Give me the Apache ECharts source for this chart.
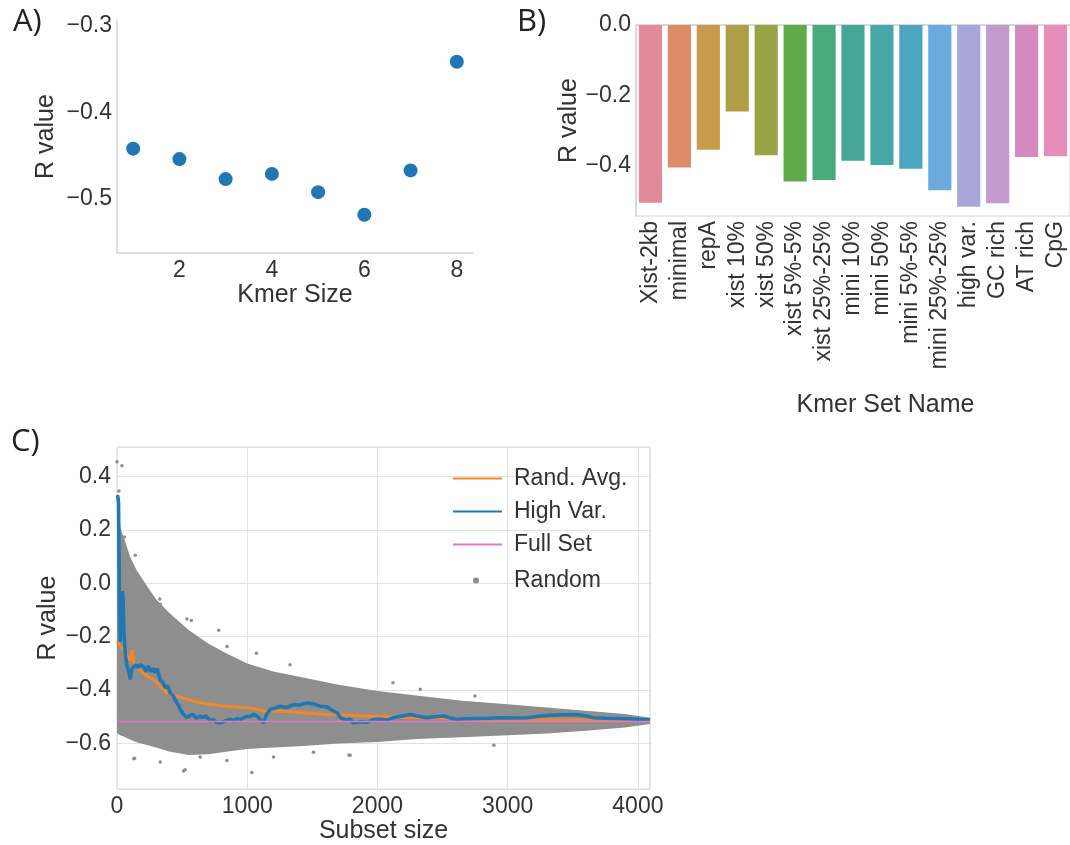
<!DOCTYPE html>
<html>
<head>
<meta charset="utf-8">
<title>Kmer R values</title>
<script src="https://cdn.jsdelivr.net/npm/echarts@6.0.0/dist/echarts.min.js"></script>
<style>
  html, body { margin: 0; padding: 0; background: #fff; }
  #chart { width: 1070px; height: 845px; }
</style>
</head>
<body>
<div id="chart"></div>
<script>
// A) R value by kmer size
const kmerSizes = [1, 2, 3, 4, 5, 6, 7, 8]
const kmerSizeR = [-0.442, -0.454, -0.477, -0.471, -0.492, -0.518, -0.467, -0.342]

// B) R value by kmer set
const setNames = ['Xist-2kb', 'minimal', 'repA', 'xist 10%', 'xist 50%', 'xist 5%-5%', 'xist 25%-25%',
  'mini 10%', 'mini 50%', 'mini 5%-5%', 'mini 25%-25%', 'high var.', 'GC rich', 'AT rich', 'CpG']
const setR = [-0.505, -0.405, -0.355, -0.246, -0.370, -0.445, -0.441,
  -0.386, -0.398, -0.409, -0.470, -0.517, -0.507, -0.375, -0.373]

// C) R value by subset size
const highVarX = [3, 8, 12, 16, 20, 25, 32, 40, 46, 55, 65, 77, 90, 102, 115, 128, 145, 160, 180, 204, 222, 240,
  260, 281, 295, 310, 332, 350, 370, 390, 409, 430, 450, 470, 486, 510, 537, 560, 580, 610, 639, 660, 680,
  716, 740, 760, 793, 830, 870, 900, 920, 950, 972, 1000, 1020, 1050, 1074, 1100, 1125, 1150, 1176, 1210,
  1253, 1300, 1355, 1400, 1458, 1510, 1560, 1610, 1662, 1690, 1714, 1760, 1790, 1816, 1870, 1919, 1970,
  2021, 2070, 2123, 2180, 2251, 2310, 2379, 2440, 2507, 2560, 2609, 2680, 2763, 2850, 2942, 3050, 3147,
  3240, 3325, 3430, 3530, 3600, 3658, 3750, 3837, 3950, 4093]
const highVarR = [0.33, 0.32, 0.30, 0.10, -0.10, -0.22, -0.15, -0.03, -0.05, -0.20, -0.27, -0.31, -0.33, -0.36,
  -0.32, -0.32, -0.305, -0.315, -0.305, -0.313, -0.33, -0.31, -0.33, -0.319, -0.335, -0.32, -0.362, -0.37,
  -0.39, -0.385, -0.411, -0.42, -0.44, -0.455, -0.472, -0.49, -0.503, -0.495, -0.49, -0.505, -0.497, -0.503,
  -0.495, -0.515, -0.51, -0.52, -0.523, -0.515, -0.509, -0.515, -0.506, -0.51, -0.503, -0.497, -0.50, -0.49,
  -0.497, -0.51, -0.523, -0.49, -0.472, -0.468, -0.46, -0.465, -0.454, -0.456, -0.448, -0.452, -0.46,
  -0.462, -0.478, -0.484, -0.503, -0.512, -0.509, -0.523, -0.518, -0.521, -0.51, -0.509, -0.512, -0.503,
  -0.498, -0.491, -0.497, -0.503, -0.50, -0.497, -0.504, -0.509, -0.507, -0.506, -0.505, -0.503, -0.504,
  -0.503, -0.498, -0.494, -0.492, -0.491, -0.497, -0.503, -0.505, -0.506, -0.508, -0.511]

const randAvgX = [2, 20, 50, 80, 105, 115, 130, 170, 204, 240, 281, 330, 384, 440, 511, 580, 639, 700, 767, 830,
  895, 960, 1023, 1080, 1125, 1190, 1253, 1330, 1407, 1530, 1662, 1790, 1919, 2050, 2200, 2400, 2600, 2800,
  3000, 3250, 3500, 3750, 4000, 4093]
const randAvgR = [-0.22, -0.23, -0.25, -0.27, -0.29, -0.25, -0.30, -0.32, -0.337, -0.35, -0.362, -0.385, -0.41,
  -0.42, -0.43, -0.44, -0.447, -0.452, -0.456, -0.459, -0.462, -0.465, -0.467, -0.472, -0.478, -0.477, -0.478,
  -0.481, -0.484, -0.488, -0.492, -0.494, -0.497, -0.499, -0.502, -0.504, -0.506, -0.508, -0.51, -0.511,
  -0.512, -0.513, -0.514, -0.515]

const fullSetX = [0, 4093]
const fullSetR = [-0.517, -0.517]

// dense part of the random cloud, read as an upper and lower edge
const cloudX = [0, 10, 30, 60, 100, 150, 230, 300, 400, 550, 700, 850, 1000, 1200, 1400, 1700, 2000, 2300,
  2650, 3000, 3300, 3600, 3900, 4093]
const cloudTop = [0.35, 0.25, 0.2, 0.16, 0.1, 0.05, -0.01, -0.06, -0.11, -0.175, -0.225, -0.265, -0.3, -0.33,
  -0.35, -0.38, -0.403, -0.42, -0.44, -0.453, -0.465, -0.477, -0.489, -0.503]
const cloudBottom = [-0.56, -0.565, -0.57, -0.575, -0.585, -0.595, -0.605, -0.615, -0.63, -0.643, -0.64, -0.63,
  -0.62, -0.615, -0.61, -0.60, -0.594, -0.583, -0.576, -0.569, -0.562, -0.552, -0.54, -0.527]

// scattered random points outside the dense cloud
const randomX = [0, 38, 15, 56, 140, 204, 332, 307, 537, 329, 571, 781, 845, 1071, 1329, 2119, 2329, 2748,
  128, 332, 511, 1036, 639, 1202, 1790, 1509, 844, 523, 135, 1781, 2894]
const randomR = [0.455, 0.44, 0.345, 0.173, 0.105, -0.042, -0.079, -0.15, -0.134, -0.059, -0.139, -0.176,
  -0.237, -0.262, -0.305, -0.372, -0.397, -0.422, -0.657, -0.669, -0.703, -0.708, -0.65, -0.65, -0.644,
  -0.632, -0.663, -0.698, -0.655, -0.643, -0.606]

const barColors = ['#e48b99', '#dd8b66', '#c79a4c', '#b09d48', '#98a348', '#5fab4c', '#4aa97c', '#46a696',
  '#48a7a7', '#4aa6c0', '#6aaadc', '#a8a6d8', '#c49acd', '#d48abf', '#e58eba']

const FONT = "'Liberation Sans', Arial, sans-serif"
const TEXT = '#333'
const SPINE = '#d4d4d4'
const GREY = '#8e8e8e'

const fmt1 = v => (v < 0 ? '\u2212' : '') + Math.abs(v).toFixed(1)
const pairs = (xs, ys) => xs.map((x, i) => [x, ys[i]])

const tickLabel = (extra) => Object.assign({
  color: TEXT, fontSize: 23, fontFamily: FONT, showMinLabel: false, showMaxLabel: false
}, extra)
const axisName = (extra) => Object.assign({ color: TEXT, fontSize: 25, fontFamily: FONT }, extra)
const panelTitle = (text, left, top) => ({
  text, left, top,
  textStyle: { fontFamily: "'Open Sans', sans-serif", fontSize: 31, fontWeight: 'normal', color: '#222' }
})

// the cloud is a polygon: upper edge left to right, then lower edge back
function renderCloud(params, api) {
  const upper = cloudX.map((x, i) => api.coord([x, cloudTop[i]]))
  const lower = cloudX.map((x, i) => api.coord([x, cloudBottom[i]])).reverse()
  return {
    type: 'polygon',
    shape: { points: upper.concat(lower) },
    style: { fill: GREY }
  }
}

const chart = echarts.init(document.getElementById('chart'))

chart.setOption({
  animation: false,
  backgroundColor: '#fff',
  title: [panelTitle('A)', 8, 2), panelTitle('B)', 512, 2), panelTitle('C)', 6, 422)],
  grid: [
    { left: 117, top: 20, width: 356, height: 233 },
    { left: 636, top: 25, width: 443, height: 191, show: true, borderColor: SPINE, borderWidth: 1 },
    { left: 117, top: 447, width: 533, height: 346, show: true, borderColor: SPINE, borderWidth: 1 }
  ],
  xAxis: [
    {
      gridIndex: 0, type: 'value', min: 0.65, max: 8.35, splitNumber: 4,
      name: 'Kmer Size', nameLocation: 'middle', nameGap: 30, nameTextStyle: axisName(),
      axisLine: { show: true, lineStyle: { color: SPINE, width: 1.5 } },
      axisTick: { show: false }, splitLine: { show: false },
      axisLabel: tickLabel({ margin: 6 })
    },
    {
      gridIndex: 1, type: 'category', data: setNames,
      name: 'Kmer Set Name', nameLocation: 'middle', nameGap: 177,
      nameTextStyle: axisName({ padding: [0, 0, 0, 65] }),
      axisLine: { show: true, lineStyle: { color: SPINE, width: 1.5 } },
      axisTick: { show: false }, splitLine: { show: false },
      axisLabel: { color: TEXT, fontSize: 23, fontFamily: FONT, rotate: 90, interval: 0, margin: 5 }
    },
    {
      gridIndex: 2, type: 'value', min: 0, max: 4093, interval: 1000,
      name: 'Subset size', nameLocation: 'middle', nameGap: 30, nameTextStyle: axisName(),
      axisLine: { show: false }, axisTick: { show: false },
      splitLine: { show: true, lineStyle: { color: '#e2e2e2', width: 1 } },
      axisLabel: tickLabel({ margin: 6, showMinLabel: true, formatter: v => String(v) })
    }
  ],
  yAxis: [
    {
      gridIndex: 0, type: 'value', min: -0.562, max: -0.294, splitNumber: 3,
      name: 'R value', nameLocation: 'middle', nameGap: 58, nameTextStyle: axisName(),
      axisLine: { show: true, lineStyle: { color: SPINE, width: 1.5 } },
      axisTick: { show: false }, splitLine: { show: false },
      axisLabel: tickLabel({ margin: 5, formatter: fmt1 })
    },
    {
      gridIndex: 1, type: 'value', min: -0.543, max: 0, splitNumber: 3,
      name: 'R value', nameLocation: 'middle', nameGap: 50, nameTextStyle: axisName(),
      axisLine: { show: true, lineStyle: { color: SPINE, width: 1.5 } },
      axisTick: { show: false }, splitLine: { show: false },
      axisLabel: tickLabel({ margin: 5, showMaxLabel: true, formatter: fmt1 })
    },
    {
      gridIndex: 2, type: 'value', min: -0.77, max: 0.51, splitNumber: 6,
      name: 'R value', nameLocation: 'middle', nameGap: 56, nameTextStyle: axisName(),
      axisLine: { show: false }, axisTick: { show: false },
      splitLine: { show: true, lineStyle: { color: '#e2e2e2', width: 1 } },
      axisLabel: tickLabel({ margin: 6, formatter: fmt1 })
    }
  ],
  legend: [
    {
      data: ['Rand. Avg.', 'High Var.', 'Full Set'],
      orient: 'vertical', left: 447, top: 462,
      itemWidth: 49, itemHeight: 14, itemGap: 10, selectedMode: false,
      itemStyle: { opacity: 0 },
      textStyle: { color: TEXT, fontSize: 23, fontFamily: FONT, lineHeight: 23, padding: [0, 0, 0, 7] }
    },
    {
      data: [{ name: 'Random', icon: 'circle' }],
      left: 468, top: 564, itemWidth: 6, itemHeight: 6, selectedMode: false,
      textStyle: { color: TEXT, fontSize: 23, fontFamily: FONT, lineHeight: 23, padding: [0, 0, 0, 30] }
    }
  ],
  series: [
    {
      name: 'Kmer size', type: 'scatter', xAxisIndex: 0, yAxisIndex: 0,
      data: pairs(kmerSizes, kmerSizeR), symbolSize: 14,
      itemStyle: { color: '#1f77b4', opacity: 1 }
    },
    {
      name: 'Kmer set', type: 'bar', xAxisIndex: 1, yAxisIndex: 1,
      data: setR, barWidth: '80%',
      itemStyle: { color: p => barColors[p.dataIndex] }
    },
    {
      name: 'cloud', type: 'custom', xAxisIndex: 2, yAxisIndex: 2, silent: true,
      data: [[cloudX[0], cloudTop[0]]], renderItem: renderCloud
    },
    {
      name: 'Random', type: 'scatter', xAxisIndex: 2, yAxisIndex: 2,
      data: pairs(randomX, randomR), symbolSize: 3.5,
      itemStyle: { color: GREY, opacity: 1 }
    },
    {
      name: 'Rand. Avg.', type: 'line', xAxisIndex: 2, yAxisIndex: 2,
      data: pairs(randAvgX, randAvgR), symbol: 'none', smooth: false,
      lineStyle: { color: '#f5862a', width: 3 }, itemStyle: { color: '#f5862a' }
    },
    {
      name: 'High Var.', type: 'line', xAxisIndex: 2, yAxisIndex: 2,
      data: pairs(highVarX, highVarR), symbol: 'none', smooth: false,
      lineStyle: { color: '#1f77b4', width: 3.5 }, itemStyle: { color: '#1f77b4' }
    },
    {
      name: 'Full Set', type: 'line', xAxisIndex: 2, yAxisIndex: 2,
      data: pairs(fullSetX, fullSetR), symbol: 'none', smooth: false,
      lineStyle: { color: '#e377c2', width: 1.5 }, itemStyle: { color: '#e377c2' }
    }
  ]
})
</script>
</body>
</html>
